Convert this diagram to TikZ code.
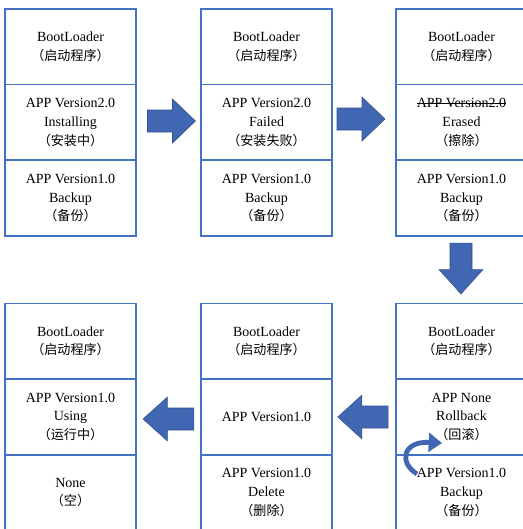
\documentclass[tikz,border=0pt]{standalone}
\usepackage{fontspec}
\setmainfont{Liberation Serif}
\newfontfamily\cjk{Noto Sans CJK SC}
\usetikzlibrary{positioning,arrows.meta}
\definecolor{colorcell}{HTML}{4472C4}
\definecolor{colorarrow}{HTML}{4267B2}
\definecolor{colorarrowline}{HTML}{2F528F}
\tikzset{
  cell/.style={draw=colorcell, line width=1.3pt, outer sep=0pt, inner sep=1pt,
    minimum width=98.25pt, minimum height=56.7pt, align=center,
    font=\fontsize{10.5}{14}\selectfont},
  bigarrow/.pic={\filldraw[fill=colorarrow, draw=colorarrowline, line width=0.4pt]
    (-24,-11) -- (1,-11) -- (1,-22) -- (24,0) -- (1,22) -- (1,11) -- (-24,11) -- cycle;},
  turnarrow/.style={colorarrow, line width=3.6pt, -{Triangle[length=10pt,width=14pt]}}
}
\newcommand\zh[1]{{\cjk\fontsize{9.8}{14}\selectfont #1}}
\newcommand\struck[1]{\setbox0\hbox{#1}\rlap{\rule[0.3em]{\wd0}{0.5pt}}\box0}

\begin{document}
\begin{tikzpicture}[x=0.75pt, y=-0.75pt]
\useasboundingbox (0,0) rectangle (523,529);

% installing
\node[cell, anchor=north west] (boot1) at (5,9) {BootLoader\\\zh{（启动程序）}};
\node[cell, below=0pt of boot1] (new1) {APP Version2.0\\Installing\\\zh{（安装中）}};
\node[cell, below=0pt of new1] (old1) {APP Version1.0\\Backup\\\zh{（备份）}};

% failed
\node[cell, anchor=north west] (boot2) at (201,9) {BootLoader\\\zh{（启动程序）}};
\node[cell, below=0pt of boot2] (new2) {APP Version2.0\\Failed\\\zh{（安装失败）}};
\node[cell, below=0pt of new2] (old2) {APP Version1.0\\Backup\\\zh{（备份）}};

% erased
\node[cell, anchor=north west] (boot3) at (396,9) {BootLoader\\\zh{（启动程序）}};
\node[cell, below=0pt of boot3] (new3) {\struck{APP Version2.0}\\Erased\\\zh{（擦除）}};
\node[cell, below=0pt of new3] (old3) {APP Version1.0\\Backup\\\zh{（备份）}};

% rollback
\node[cell, anchor=north west] (boot4) at (396,303.5) {BootLoader\\\zh{（启动程序）}};
\node[cell, below=0pt of boot4] (new4) {APP None\\Rollback\\\zh{（回滚）}};
\node[cell, below=0pt of new4] (old4) {APP Version1.0\\Backup\\\zh{（备份）}};

% delete
\node[cell, anchor=north west] (boot5) at (201,303.5) {BootLoader\\\zh{（启动程序）}};
\node[cell, below=0pt of boot5] (new5) {APP Version1.0};
\node[cell, below=0pt of new5] (old5) {APP Version1.0\\Delete\\\zh{（删除）}};

% using
\node[cell, anchor=north west] (boot6) at (5,303.5) {BootLoader\\\zh{（启动程序）}};
\node[cell, below=0pt of boot6] (new6) {APP Version1.0\\Using\\\zh{（运行中）}};
\node[cell, below=0pt of new6] (old6) {None\\\zh{（空）}};

% step arrows
\pic at (171.5,121) {bigarrow};
\pic at (361,119) {bigarrow};
\pic[rotate=-90, xscale=1.06] at (461,268.5) {bigarrow};
\pic[rotate=180, xscale=1.05] at (363,417) {bigarrow};
\pic[rotate=180, xscale=1.06] at (168.5,419) {bigarrow};

\draw[turnarrow] (417,474) .. controls (399,463) and (402,441) .. (442,443);
\end{tikzpicture}
\end{document}
